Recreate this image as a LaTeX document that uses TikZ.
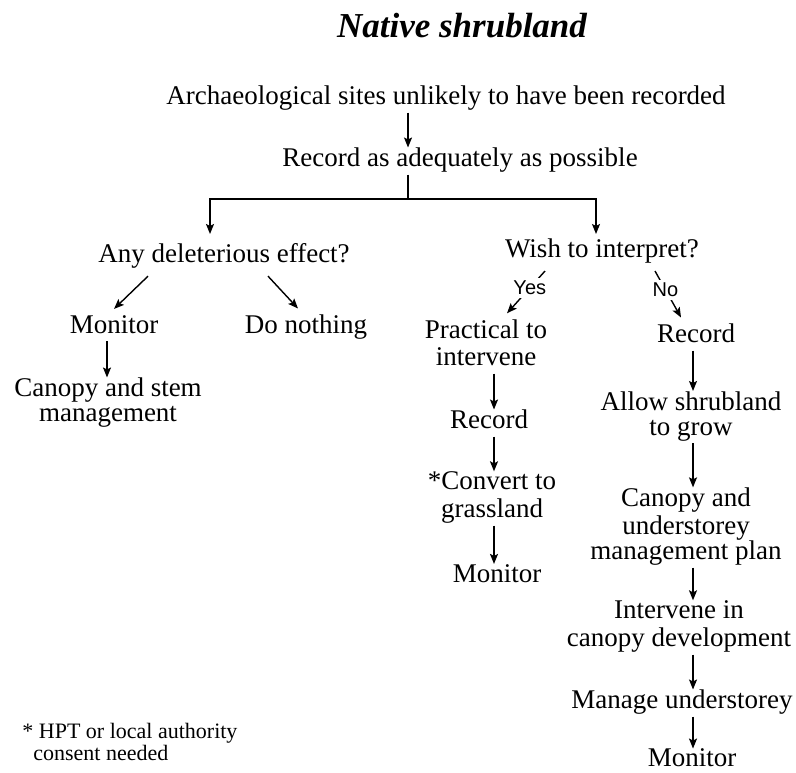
\documentclass[tikz,border=0pt]{standalone}
\usepackage{fontspec}
\setmainfont{Liberation Serif}
\newfontfamily\yesnofont{Liberation Sans}
\usetikzlibrary{arrows.meta}

\begin{document}
\begin{tikzpicture}[x=0.5pt,y=-0.5pt,
        every node/.style={inner xsep=0pt,inner ysep=0pt,align=center,
        font=\fontsize{13.5}{12.5}\selectfont},
        flow/.style={-{Stealth[length=5pt,width=4pt,inset=1pt]},line width=0.7pt},
        link/.style={line width=0.7pt},
        yn/.style={fill=white,inner sep=1.5pt,font=\yesnofont\fontsize{10}{11}\selectfont}]
        \useasboundingbox (0,0) rectangle (796,772);

        \node[font=\fontsize{17.5}{20}\selectfont\bfseries\itshape] (title) at (462,26) {Native shrubland};

        \node (arch) at (446,99) {\strut Archaeological sites unlikely to have been recorded};
        \node (rec0) at (460,161) {\strut Record as adequately as possible};

        \coordinate (split) at (408,199);
        \coordinate (brL) at (210,199);
        \coordinate (brR) at (596,199);
        \draw[flow] (arch.south -| split) -- (rec0.north -| split);
        \draw[link] (rec0.south -| split) -- (split);
        \draw[flow] (split) -| (brL) -- (brL |- 0,234);
        \draw[flow] (split) -| (brR) -- (brR |- 0,234);

        % left branch
        \node (any) at (224,256.5) {\strut Any deleterious effect?};
        \node (mon1) at (114,328) {\strut Monitor};
        \node (don) at (306,328) {\strut Do nothing};
        \node (canstem) at (108,403.5) {\strut Canopy and stem\\ management\strut};
        \draw[flow] ([xshift=-38pt,yshift=-3pt]any.south) -- ([yshift=3pt]mon1.north);
        \draw[flow] ([xshift=22pt,yshift=-3pt]any.south) -- ([xshift=-4pt,yshift=3pt]don.north);
        \coordinate (colA) at (107,0);
        \draw[flow] (mon1.south -| colA) -- (canstem.north -| colA);

        % right branch
        \node (wish) at (602,251.5) {\strut Wish to interpret?};
        \node (practical) at (486,346.5) {\strut Practical to\\ intervene\strut};
        \node (recR) at (696,337) {\strut Record};
        \draw[flow] ([xshift=-28.5pt,yshift=-3pt]wish.south) -- node[yn,pos=0.4]{Yes} ([xshift=10.5pt,yshift=3pt]practical.north);
        \draw[flow] ([xshift=26.5pt,yshift=-3pt]wish.south) -- node[yn,pos=0.4]{No} ([xshift=-7.5pt,yshift=3pt]recR.north);

        % yes column
        \node (recL) at (489,423) {\strut Record};
        \node (convert) at (492,498.5) {\strut *Convert to\\ grassland\strut};
        \node (monL) at (497,577) {\strut Monitor};
        \coordinate (colB) at (494,0);
        \draw[flow] (practical.south -| colB) -- (recL.north -| colB);
        \draw[flow] (recL.south -| colB) -- (convert.north -| colB);
        \draw[flow] (convert.south -| colB) -- (monL.north -| colB);

        % no column
        \node (allow) at (691,417) {\strut Allow shrubland\\ to grow\strut};
        \node (canund) at (686,527.5) {\strut Canopy and\\ understorey\\ management plan\strut};
        \node (intervene) at (679,627.5) {\strut Intervene in\\ canopy development\strut};
        \node (manage) at (682,703) {\strut Manage understorey};
        \node (monR) at (692,758) {Monitor};
        \coordinate (colC) at (693,0);
        \draw[flow] (recR.south -| colC) -- (allow.north -| colC);
        \draw[flow] (allow.south -| colC) -- (canund.north -| colC);
        \draw[flow] (canund.south -| colC) -- (intervene.north -| colC);
        \draw[flow] (intervene.south -| colC) -- (manage.north -| colC);
        \draw[flow] (manage.south -| colC) -- (monR.north -| colC);

        \node[anchor=north west,inner sep=0pt,align=left,
        font=\fontsize{11}{10}\selectfont] (note) at (22,723)
        {* HPT or local authority\\ \phantom{*}consent needed};
\end{tikzpicture}
\end{document}
